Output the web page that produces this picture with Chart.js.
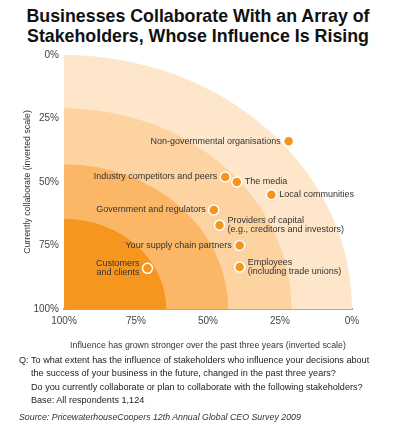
<!DOCTYPE html>
<html>
<head>
<meta charset="utf-8">
<script src="https://cdn.jsdelivr.net/npm/chart.js@4.4.1/dist/chart.umd.min.js"></script>
<style>
  html, body { margin: 0; padding: 0; background: #fff; }
  body { width: 394px; height: 432px; position: relative; overflow: hidden; font-family: Arial, "Liberation Sans", sans-serif; }
  #title { position: absolute; left: 0; top: 6px; width: 396px; text-align: center; font-weight: bold; font-size: 17.8px; line-height: 20px; color: #111; white-space: nowrap; }
  #wrap { position: absolute; left: 0; top: 44px; width: 394px; height: 312px; }
  #note { position: absolute; left: 19px; top: 354px; width: 375px; font-size: 9.1px; line-height: 13.3px; color: #222; white-space: nowrap; }
  #note .q { position: absolute; left: 0; top: 0; }
  #note .body { margin-left: 12px; }
  #source { position: absolute; left: 19px; top: 412px; font-size: 8.8px; font-style: italic; color: #333; white-space: nowrap; }
</style>
</head>
<body>
<div id="title">Businesses Collaborate With an Array of<br>Stakeholders, Whose Influence Is Rising</div>
<div id="wrap"><canvas id="stakeChart"></canvas></div>
<div id="note">
  <span class="q">Q:</span>
  <div class="body">To what extent has the influence of stakeholders who influence your decisions about<br>the success of your business in the future, changed in the past three years?<br>Do you currently collaborate or plan to collaborate with the following stakeholders?<br>Base: All respondents 1,124</div>
</div>
<div id="source">Source: PricewaterhouseCoopers 12th Annual Global CEO Survey 2009</div>

<script>
// Dados do gráfico
const stakeholders = [
    'Non-governmental organisations',
    'Industry competitors and peers',
    'The media',
    'Local communities',
    'Government and regulators',
    ['Providers of capital', '(e.g., creditors and investors)'],
    'Your supply chain partners',
    ['Employees', '(including trade unions)'],
    ['Customers', 'and clients']
];
const influenceGrown = [22, 44, 40, 28, 48, 46, 39, 39, 71];   // eixo x (invertido)
const collaborate = [34, 48, 50, 55, 61, 67, 75, 83.5, 84];    // eixo y (invertido)
const labelSide = ['left', 'left', 'right', 'right', 'left', 'right', 'left', 'right', 'left'];
const tickValues = [0, 25, 50, 75, 100];
const bandRadii = [100, 79, 57, 35.5];
const bandColors = ['#fee6cb', '#fdd3a2', '#fbb766', '#f7961f'];

// Faixas em quarto de elipse, desenhadas a partir das escalas
const bandsPlugin = {
    id: 'bands',
    beforeDatasetsDraw(chart) {
        const { ctx, chartArea, scales: { x, y } } = chart;
        const cx = x.getPixelForValue(100);
        const cy = y.getPixelForValue(100);
        ctx.save();
        ctx.beginPath();
        ctx.rect(chartArea.left, chartArea.top, chartArea.width, chartArea.height);
        ctx.clip();
        bandRadii.forEach((r, i) => {
            const rx = Math.abs(x.getPixelForValue(100 - r) - cx);
            const ry = Math.abs(y.getPixelForValue(100 - r) - cy);
            ctx.beginPath();
            ctx.moveTo(cx, cy);
            ctx.ellipse(cx, cy, rx, ry, 0, -Math.PI / 2, 0);
            ctx.closePath();
            ctx.fillStyle = bandColors[i];
            ctx.fill();
        });
        ctx.restore();
    }
};

// Rótulos ao lado de cada ponto
const pointLabelsPlugin = {
    id: 'pointLabels',
    afterDatasetsDraw(chart) {
        const { ctx } = chart;
        const meta = chart.getDatasetMeta(0);
        ctx.save();
        ctx.font = '9px Arial, "Liberation Sans", sans-serif';
        ctx.fillStyle = '#333';
        ctx.textBaseline = 'middle';
        meta.data.forEach((pt, i) => {
            const lines = [].concat(stakeholders[i]);
            const right = labelSide[i] === 'right';
            ctx.textAlign = right ? 'left' : 'right';
            const tx = right ? pt.x + 8 : pt.x - 8;
            const lh = 9;
            const y0 = pt.y - (lines.length - 1) * lh / 2;
            lines.forEach((line, j) => ctx.fillText(line, tx, y0 + j * lh));
        });
        ctx.restore();
    }
};

document.addEventListener('DOMContentLoaded', function() {
    const ctx = document.getElementById('stakeChart').getContext('2d');
    new Chart(ctx, {
        type: 'scatter',
        data: {
            datasets: [{
                data: influenceGrown.map((v, i) => ({ x: v, y: collaborate[i] })),
                backgroundColor: '#f7941d',
                borderColor: '#fff',
                borderWidth: 1.5,
                pointRadius: 5,
                pointHoverRadius: 5
            }]
        },
        plugins: [bandsPlugin, pointLabelsPlugin],
        options: {
            responsive: true,
            maintainAspectRatio: false,
            animation: false,
            layout: { padding: { top: 11, right: 42, left: 0, bottom: 0 } },
            plugins: {
                legend: { display: false },
                tooltip: { enabled: false }
            },
            scales: {
                x: {
                    type: 'linear',
                    reverse: true,
                    min: 0,
                    max: 100,
                    afterFit: s => { s.height = 47; },
                    afterBuildTicks: s => { s.ticks = tickValues.map(v => ({ value: v })); },
                    grid: { drawOnChartArea: false, drawTicks: false },
                    border: { color: '#aaa', width: 2 },
                    ticks: {
                        padding: 6,
                        color: '#444',
                        font: { family: 'Arial, "Liberation Sans", sans-serif', size: 10 },
                        callback: v => v + '%'
                    },
                    title: {
                        display: true,
                        text: 'Influence has grown stronger over the past three years (inverted scale)',
                        color: '#333',
                        font: { family: 'Arial, "Liberation Sans", sans-serif', size: 8.8 },
                        padding: { top: 0, bottom: 5 }
                    }
                },
                y: {
                    type: 'linear',
                    reverse: true,
                    min: 0,
                    max: 100,
                    afterFit: s => { s.width = 64; },
                    afterBuildTicks: s => { s.ticks = tickValues.map(v => ({ value: v })); },
                    grid: { drawOnChartArea: false, drawTicks: false },
                    border: { color: '#999', width: 1 },
                    ticks: {
                        padding: 5,
                        color: '#444',
                        font: { family: 'Arial, "Liberation Sans", sans-serif', size: 10 },
                        callback: v => v + '%'
                    },
                    title: {
                        display: true,
                        text: 'Currently collaborate (inverted scale)',
                        color: '#333',
                        font: { family: 'Arial, "Liberation Sans", sans-serif', size: 8.8 },
                        padding: { top: 22, bottom: 0 }
                    }
                }
            }
        }
    });
});
</script>
</body>
</html>
